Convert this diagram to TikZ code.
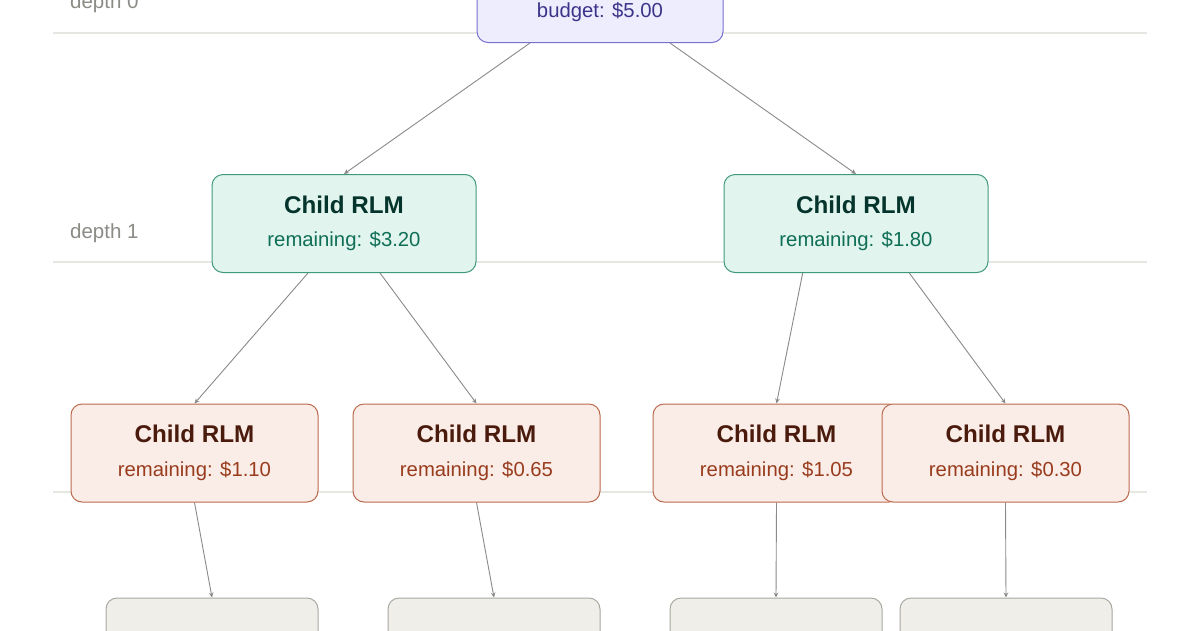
\documentclass[tikz,border=0pt]{standalone}
\usepackage{fontspec}
\setmainfont{Liberation Sans}
\usetikzlibrary{arrows.meta}
\pgfdeclarelayer{bg}
\pgfsetlayers{bg,main}
\definecolor{guide}{HTML}{E6E6E3}
\definecolor{lbl}{HTML}{8C8B85}
\definecolor{edgec}{HTML}{8A8A88}
\definecolor{pFill}{HTML}{EEEDFE}
\definecolor{pLine}{HTML}{7A70CF}
\definecolor{pText}{HTML}{3C3489}
\definecolor{tFill}{HTML}{E1F5EE}
\definecolor{tLine}{HTML}{3F9A7C}
\definecolor{tTitle}{HTML}{04342C}
\definecolor{tText}{HTML}{0F6E56}
\definecolor{cFill}{HTML}{FAECE7}
\definecolor{cLine}{HTML}{BA6A4E}
\definecolor{cTitle}{HTML}{4A1B0C}
\definecolor{cText}{HTML}{993C1D}
\definecolor{gFill}{HTML}{EFEEE8}
\definecolor{gLine}{HTML}{A9A8A1}
\tikzset{
  x=1pt, y=-1pt,
  boxbase/.style={draw, line width=1pt, rounded corners=11pt, inner sep=0pt, minimum height=98pt},
  rootbox/.style={boxbase, fill=pFill, draw=pLine, minimum width=246pt},
  tealbox/.style={boxbase, fill=tFill, draw=tLine, minimum width=264pt},
  coralbox/.style={boxbase, fill=cFill, draw=cLine, minimum width=247pt},
  graybox/.style={boxbase, fill=gFill, draw=gLine, minimum width=212pt},
  ttl/.style={anchor=base, inner sep=0pt, font=\fontsize{24.2}{28}\selectfont\bfseries},
  sub/.style={anchor=base, inner sep=0pt, font=\fontsize{20.3}{24}\selectfont},
  depthlbl/.style={anchor=base west, inner sep=0pt, text=lbl, font=\fontsize{20.5}{24}\selectfont},
  guideline/.style={draw=guide, line width=1.5pt},
  conn/.style={draw=edgec, line width=0.9pt, -{Stealth[length=5pt,width=4.5pt]}},
}
\begin{document}
\begin{tikzpicture}
\useasboundingbox (0,0) rectangle (1200,630);
\clip (0,0) rectangle (1200,630);

% background, guide lines and depth labels
\begin{pgfonlayer}{bg}
\fill[white] (0,0) rectangle (1200,630);
\coordinate (gl0a) at (53,33);  \coordinate (gl0b) at (1147,33);
\coordinate (gl1a) at (53,262); \coordinate (gl1b) at (1147,262);
\coordinate (gl2a) at (53,492); \coordinate (gl2b) at (1147,492);
\draw[guideline] (gl0a) -- (gl0b);
\draw[guideline] (gl1a) -- (gl1b);
\draw[guideline] (gl2a) -- (gl2b);
\node[depthlbl] (d0) at (70,8) {depth 0};
\node[depthlbl] (d1) at (70,238) {depth 1};
\end{pgfonlayer}

% root
\node[rootbox] (r) at (600,-6.5) {};
\node[sub, text=pText] (rt) at ([yshift=-23.5pt]r.center) {budget: \$5.00};

% depth 1
\node[tealbox] (c1) at (344,223.5) {};
\node[ttl, text=tTitle] (c1a) at ([yshift=10.3pt]c1.center) {Child RLM};
\node[sub, text=tText] (c1b) at ([yshift=-23.2pt]c1.center) {remaining: \$3.20};
\node[tealbox] (c2) at (856,223.5) {};
\node[ttl, text=tTitle] (c2a) at ([yshift=10.3pt]c2.center) {Child RLM};
\node[sub, text=tText] (c2b) at ([yshift=-23.2pt]c2.center) {remaining: \$1.80};

% depth 2
\node[coralbox] (g1) at (194.5,453) {};
\node[ttl, text=cTitle] (g1a) at ([yshift=10.3pt]g1.center) {Child RLM};
\node[sub, text=cText] (g1b) at ([yshift=-23.2pt]g1.center) {remaining: \$1.10};
\node[coralbox] (g2) at (476.5,453) {};
\node[ttl, text=cTitle] (g2a) at ([yshift=10.3pt]g2.center) {Child RLM};
\node[sub, text=cText] (g2b) at ([yshift=-23.2pt]g2.center) {remaining: \$0.65};
\node[coralbox] (g3) at (776.5,453) {};
\node[ttl, text=cTitle] (g3a) at ([yshift=10.3pt]g3.center) {Child RLM};
\node[sub, text=cText] (g3b) at ([yshift=-23.2pt]g3.center) {remaining: \$1.05};
\node[coralbox] (g4) at (1005.5,453) {};
\node[ttl, text=cTitle] (g4a) at ([yshift=10.3pt]g4.center) {Child RLM};
\node[sub, text=cText] (g4b) at ([yshift=-23.2pt]g4.center) {remaining: \$0.30};

% depth 3
\node[graybox] (h1) at (212,647) {};
\node[graybox] (h2) at (494,647) {};
\node[graybox] (h3) at (776,647) {};
\node[graybox] (h4) at (1006,647) {};

% connectors
\begin{pgfonlayer}{bg}
\draw[conn] ([xshift=-70pt]r.south) -- (c1.north);
\draw[conn] ([xshift=70pt]r.south) -- (c2.north);
\draw[conn] ([xshift=-36pt]c1.south) -- (g1.north);
\draw[conn] ([xshift=36pt]c1.south) -- (g2.north);
\draw[conn] ([xshift=-53.3pt]c2.south) -- (g3.north);
\draw[conn] ([xshift=53.3pt]c2.south) -- (g4.north);
\draw[conn] (g1.south) -- (h1.north);
\draw[conn] (g2.south) -- (h2.north);
\draw[conn] (g3.south) -- (h3.north);
\draw[conn] (g4.south) -- (h4.north);
\end{pgfonlayer}
\end{tikzpicture}
\end{document}
